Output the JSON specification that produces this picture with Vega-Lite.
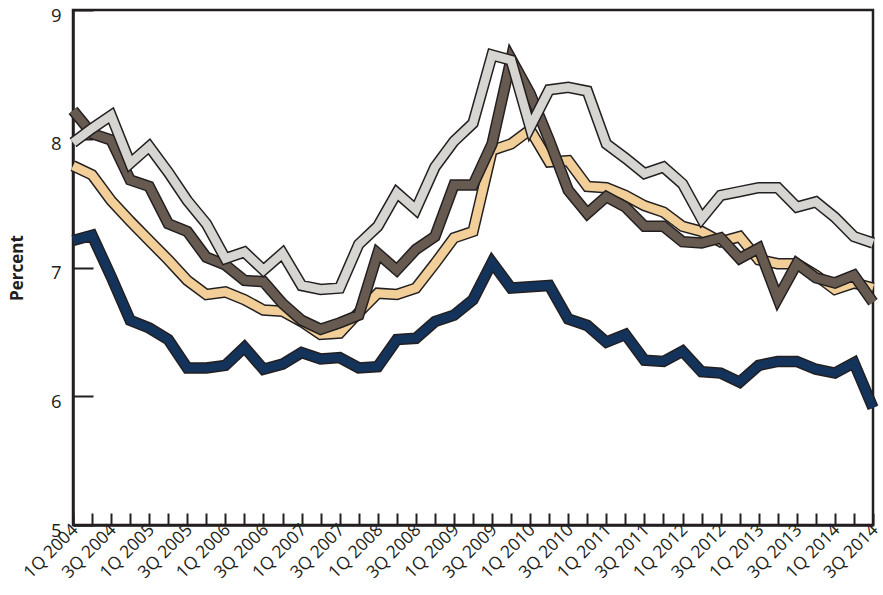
{
  "$schema": "https://vega.github.io/schema/vega-lite/v6.json",
  "width": 800,
  "height": 515,
  "autosize": {"type": "none"},
  "padding": {"left": 73, "top": 10, "right": 10, "bottom": 70},
  "background": "white",
  "config": {
    "font": "Open Sans",
    "view": {"stroke": "#231f20", "strokeWidth": 2.5},
    "axis": {"domainColor": "#231f20", "domainWidth": 2.5, "tickColor": "#231f20", "tickWidth": 2, "labelColor": "#231f20", "titleColor": "#231f20", "grid": false},
    "line": {"strokeJoin": "miter", "strokeCap": "butt"}
  },
  "data": {"values": [
    {"q":"1Q 2004","s":"Retail","v":7.79},{"q":"2Q 2004","s":"Retail","v":7.72},{"q":"3Q 2004","s":"Retail","v":7.52},{"q":"4Q 2004","s":"Retail","v":7.36},
    {"q":"1Q 2005","s":"Retail","v":7.21},{"q":"2Q 2005","s":"Retail","v":7.06},{"q":"3Q 2005","s":"Retail","v":6.90},{"q":"4Q 2005","s":"Retail","v":6.79},
    {"q":"1Q 2006","s":"Retail","v":6.81},{"q":"2Q 2006","s":"Retail","v":6.75},{"q":"3Q 2006","s":"Retail","v":6.67},{"q":"4Q 2006","s":"Retail","v":6.66},
    {"q":"1Q 2007","s":"Retail","v":6.58},{"q":"2Q 2007","s":"Retail","v":6.48},{"q":"3Q 2007","s":"Retail","v":6.49},{"q":"4Q 2007","s":"Retail","v":6.65},
    {"q":"1Q 2008","s":"Retail","v":6.80},{"q":"2Q 2008","s":"Retail","v":6.79},{"q":"3Q 2008","s":"Retail","v":6.84},{"q":"4Q 2008","s":"Retail","v":7.03},
    {"q":"1Q 2009","s":"Retail","v":7.23},{"q":"2Q 2009","s":"Retail","v":7.28},{"q":"3Q 2009","s":"Retail","v":7.91},{"q":"4Q 2009","s":"Retail","v":7.96},
    {"q":"1Q 2010","s":"Retail","v":8.07},{"q":"2Q 2010","s":"Retail","v":7.82},{"q":"3Q 2010","s":"Retail","v":7.83},{"q":"4Q 2010","s":"Retail","v":7.63},
    {"q":"1Q 2011","s":"Retail","v":7.62},{"q":"2Q 2011","s":"Retail","v":7.56},{"q":"3Q 2011","s":"Retail","v":7.48},{"q":"4Q 2011","s":"Retail","v":7.43},
    {"q":"1Q 2012","s":"Retail","v":7.32},{"q":"2Q 2012","s":"Retail","v":7.28},{"q":"3Q 2012","s":"Retail","v":7.20},{"q":"4Q 2012","s":"Retail","v":7.24},
    {"q":"1Q 2013","s":"Retail","v":7.06},{"q":"2Q 2013","s":"Retail","v":7.03},{"q":"3Q 2013","s":"Retail","v":7.03},{"q":"4Q 2013","s":"Retail","v":6.94},
    {"q":"1Q 2014","s":"Retail","v":6.83},{"q":"2Q 2014","s":"Retail","v":6.88},{"q":"3Q 2014","s":"Retail","v":6.84},

    {"q":"1Q 2004","s":"Office","v":8.22},{"q":"2Q 2004","s":"Office","v":8.04},{"q":"3Q 2004","s":"Office","v":7.99},{"q":"4Q 2004","s":"Office","v":7.68},
    {"q":"1Q 2005","s":"Office","v":7.63},{"q":"2Q 2005","s":"Office","v":7.34},{"q":"3Q 2005","s":"Office","v":7.28},{"q":"4Q 2005","s":"Office","v":7.08},
    {"q":"1Q 2006","s":"Office","v":7.02},{"q":"2Q 2006","s":"Office","v":6.90},{"q":"3Q 2006","s":"Office","v":6.89},{"q":"4Q 2006","s":"Office","v":6.72},
    {"q":"1Q 2007","s":"Office","v":6.59},{"q":"2Q 2007","s":"Office","v":6.52},{"q":"3Q 2007","s":"Office","v":6.57},{"q":"4Q 2007","s":"Office","v":6.63},
    {"q":"1Q 2008","s":"Office","v":7.11},{"q":"2Q 2008","s":"Office","v":6.98},{"q":"3Q 2008","s":"Office","v":7.14},{"q":"4Q 2008","s":"Office","v":7.24},
    {"q":"1Q 2009","s":"Office","v":7.64},{"q":"2Q 2009","s":"Office","v":7.64},{"q":"3Q 2009","s":"Office","v":7.96},{"q":"4Q 2009","s":"Office","v":8.62},
    {"q":"1Q 2010","s":"Office","v":8.35},{"q":"2Q 2010","s":"Office","v":7.99},{"q":"3Q 2010","s":"Office","v":7.60},{"q":"4Q 2010","s":"Office","v":7.42},
    {"q":"1Q 2011","s":"Office","v":7.55},{"q":"2Q 2011","s":"Office","v":7.47},{"q":"3Q 2011","s":"Office","v":7.32},{"q":"4Q 2011","s":"Office","v":7.32},
    {"q":"1Q 2012","s":"Office","v":7.20},{"q":"2Q 2012","s":"Office","v":7.19},{"q":"3Q 2012","s":"Office","v":7.23},{"q":"4Q 2012","s":"Office","v":7.07},
    {"q":"1Q 2013","s":"Office","v":7.15},{"q":"2Q 2013","s":"Office","v":6.76},{"q":"3Q 2013","s":"Office","v":7.03},{"q":"4Q 2013","s":"Office","v":6.92},
    {"q":"1Q 2014","s":"Office","v":6.88},{"q":"2Q 2014","s":"Office","v":6.94},{"q":"3Q 2014","s":"Office","v":6.73},

    {"q":"1Q 2004","s":"Industrial","v":7.97},{"q":"2Q 2004","s":"Industrial","v":8.08},{"q":"3Q 2004","s":"Industrial","v":8.18},{"q":"4Q 2004","s":"Industrial","v":7.81},
    {"q":"1Q 2005","s":"Industrial","v":7.94},{"q":"2Q 2005","s":"Industrial","v":7.74},{"q":"3Q 2005","s":"Industrial","v":7.52},{"q":"4Q 2005","s":"Industrial","v":7.34},
    {"q":"1Q 2006","s":"Industrial","v":7.07},{"q":"2Q 2006","s":"Industrial","v":7.12},{"q":"3Q 2006","s":"Industrial","v":6.98},{"q":"4Q 2006","s":"Industrial","v":7.11},
    {"q":"1Q 2007","s":"Industrial","v":6.86},{"q":"2Q 2007","s":"Industrial","v":6.83},{"q":"3Q 2007","s":"Industrial","v":6.84},{"q":"4Q 2007","s":"Industrial","v":7.18},
    {"q":"1Q 2008","s":"Industrial","v":7.32},{"q":"2Q 2008","s":"Industrial","v":7.58},{"q":"3Q 2008","s":"Industrial","v":7.45},{"q":"4Q 2008","s":"Industrial","v":7.78},
    {"q":"1Q 2009","s":"Industrial","v":7.98},{"q":"2Q 2009","s":"Industrial","v":8.12},{"q":"3Q 2009","s":"Industrial","v":8.65},{"q":"4Q 2009","s":"Industrial","v":8.61},
    {"q":"1Q 2010","s":"Industrial","v":8.09},{"q":"2Q 2010","s":"Industrial","v":8.38},{"q":"3Q 2010","s":"Industrial","v":8.40},{"q":"4Q 2010","s":"Industrial","v":8.37},
    {"q":"1Q 2011","s":"Industrial","v":7.96},{"q":"2Q 2011","s":"Industrial","v":7.85},{"q":"3Q 2011","s":"Industrial","v":7.73},{"q":"4Q 2011","s":"Industrial","v":7.78},
    {"q":"1Q 2012","s":"Industrial","v":7.65},{"q":"2Q 2012","s":"Industrial","v":7.38},{"q":"3Q 2012","s":"Industrial","v":7.56},{"q":"4Q 2012","s":"Industrial","v":7.59},
    {"q":"1Q 2013","s":"Industrial","v":7.62},{"q":"2Q 2013","s":"Industrial","v":7.62},{"q":"3Q 2013","s":"Industrial","v":7.47},{"q":"4Q 2013","s":"Industrial","v":7.51},
    {"q":"1Q 2014","s":"Industrial","v":7.39},{"q":"2Q 2014","s":"Industrial","v":7.24},{"q":"3Q 2014","s":"Industrial","v":7.19},

    {"q":"1Q 2004","s":"Apartment","v":7.21},{"q":"2Q 2004","s":"Apartment","v":7.25},{"q":"3Q 2004","s":"Apartment","v":6.93},{"q":"4Q 2004","s":"Apartment","v":6.59},
    {"q":"1Q 2005","s":"Apartment","v":6.53},{"q":"2Q 2005","s":"Apartment","v":6.44},{"q":"3Q 2005","s":"Apartment","v":6.22},{"q":"4Q 2005","s":"Apartment","v":6.22},
    {"q":"1Q 2006","s":"Apartment","v":6.24},{"q":"2Q 2006","s":"Apartment","v":6.38},{"q":"3Q 2006","s":"Apartment","v":6.21},{"q":"4Q 2006","s":"Apartment","v":6.25},
    {"q":"1Q 2007","s":"Apartment","v":6.34},{"q":"2Q 2007","s":"Apartment","v":6.29},{"q":"3Q 2007","s":"Apartment","v":6.30},{"q":"4Q 2007","s":"Apartment","v":6.22},
    {"q":"1Q 2008","s":"Apartment","v":6.23},{"q":"2Q 2008","s":"Apartment","v":6.44},{"q":"3Q 2008","s":"Apartment","v":6.45},{"q":"4Q 2008","s":"Apartment","v":6.58},
    {"q":"1Q 2009","s":"Apartment","v":6.63},{"q":"2Q 2009","s":"Apartment","v":6.75},{"q":"3Q 2009","s":"Apartment","v":7.04},{"q":"4Q 2009","s":"Apartment","v":6.84},
    {"q":"1Q 2010","s":"Apartment","v":6.85},{"q":"2Q 2010","s":"Apartment","v":6.86},{"q":"3Q 2010","s":"Apartment","v":6.60},{"q":"4Q 2010","s":"Apartment","v":6.55},
    {"q":"1Q 2011","s":"Apartment","v":6.42},{"q":"2Q 2011","s":"Apartment","v":6.48},{"q":"3Q 2011","s":"Apartment","v":6.28},{"q":"4Q 2011","s":"Apartment","v":6.27},
    {"q":"1Q 2012","s":"Apartment","v":6.35},{"q":"2Q 2012","s":"Apartment","v":6.19},{"q":"3Q 2012","s":"Apartment","v":6.18},{"q":"4Q 2012","s":"Apartment","v":6.11},
    {"q":"1Q 2013","s":"Apartment","v":6.24},{"q":"2Q 2013","s":"Apartment","v":6.27},{"q":"3Q 2013","s":"Apartment","v":6.27},{"q":"4Q 2013","s":"Apartment","v":6.21},
    {"q":"1Q 2014","s":"Apartment","v":6.18},{"q":"2Q 2014","s":"Apartment","v":6.26},{"q":"3Q 2014","s":"Apartment","v":5.91}
  ]},
  "encoding": {
    "x": {
      "field": "q", "type": "ordinal",
      "scale": {"type": "point", "padding": 0, "domain": ["1Q 2004","2Q 2004","3Q 2004","4Q 2004","1Q 2005","2Q 2005","3Q 2005","4Q 2005","1Q 2006","2Q 2006","3Q 2006","4Q 2006","1Q 2007","2Q 2007","3Q 2007","4Q 2007","1Q 2008","2Q 2008","3Q 2008","4Q 2008","1Q 2009","2Q 2009","3Q 2009","4Q 2009","1Q 2010","2Q 2010","3Q 2010","4Q 2010","1Q 2011","2Q 2011","3Q 2011","4Q 2011","1Q 2012","2Q 2012","3Q 2012","4Q 2012","1Q 2013","2Q 2013","3Q 2013","4Q 2013","1Q 2014","2Q 2014","3Q 2014"]},
      "axis": {
        "title": null, "labelAngle": -45, "labelAlign": "right", "labelBaseline": "middle",
        "labelFontSize": 17.5, "tickSize": -12, "labelPadding": 14, "labelOffset": 2,
        "labelOverlap": false, "labelBound": false,
        "labelExpr": "(indexof(datum.label, '1Q') == 0 || indexof(datum.label, '3Q') == 0) ? datum.label : ''"
      }
    },
    "y": {
      "field": "v", "type": "quantitative",
      "scale": {"domain": [5, 9], "nice": false, "zero": false},
      "axis": {
        "values": [5, 6, 7, 8, 9], "tickSize": -20, "labelPadding": 32, "labelFontSize": 18.5, "labelOffset": 5,
        "title": "Percent", "titleFontSize": 17, "titleFontWeight": "bold", "titlePadding": 24
      }
    },
    "color": {
      "field": "s", "type": "nominal",
      "scale": {"domain": ["Retail", "Office", "Industrial", "Apartment"], "range": ["#F2CF99", "#675B51", "#D6D5D1", "#14335B"]},
      "legend": null
    }
  },
  "layer": [
    {"transform": [{"filter": "datum.s == 'Retail'"}], "mark": {"type": "line", "strokeWidth": 11.5}, "encoding": {"stroke": {"value": "#231f20"}}},
    {"transform": [{"filter": "datum.s == 'Retail'"}], "mark": {"type": "line", "strokeWidth": 8.5}},
    {"transform": [{"filter": "datum.s == 'Office'"}], "mark": {"type": "line", "strokeWidth": 11.5}, "encoding": {"stroke": {"value": "#231f20"}}},
    {"transform": [{"filter": "datum.s == 'Office'"}], "mark": {"type": "line", "strokeWidth": 8.5}},
    {"transform": [{"filter": "datum.s == 'Industrial'"}], "mark": {"type": "line", "strokeWidth": 11.5}, "encoding": {"stroke": {"value": "#231f20"}}},
    {"transform": [{"filter": "datum.s == 'Industrial'"}], "mark": {"type": "line", "strokeWidth": 8.5}},
    {"transform": [{"filter": "datum.s == 'Apartment'"}], "mark": {"type": "line", "strokeWidth": 11.5}, "encoding": {"stroke": {"value": "#231f20"}}},
    {"transform": [{"filter": "datum.s == 'Apartment'"}], "mark": {"type": "line", "strokeWidth": 8.5}},
    {
      "mark": {"type": "point", "filled": true, "size": 0, "opacity": 1, "strokeWidth": 0},
      "encoding": {
        "color": {
          "field": "s", "type": "nominal",
          "scale": {"domain": ["Retail", "Office", "Industrial", "Apartment"], "range": ["#F2CF99", "#675B51", "#D6D5D1", "#14335B"]},
          "legend": {
            "title": null, "orient": "none", "legendX": 49, "legendY": 356,
            "symbolType": "M-1,-0.24H1V0.24H-1Z", "symbolSize": 2500,
            "symbolStrokeColor": "#231f20", "symbolStrokeWidth": 1.2, "symbolOpacity": 1,
            "labelFontSize": 17, "labelColor": "#231f20", "labelOffset": 13, "rowPadding": -3,
            "encode": {"symbols": {
              "stroke": {"value": "#231f20"},
              "strokeWidth": {"value": 1.2},
              "fillOpacity": {"value": 1},
              "opacity": {"value": 1}
            }}
          }
        }
      }
    }
  ]
}
